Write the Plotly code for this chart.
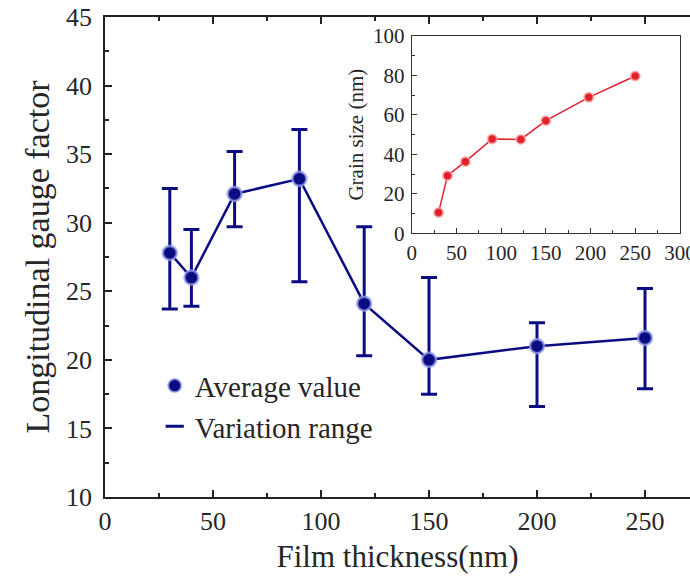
import plotly.graph_objects as go

# Main chart data
thickness = [30, 40, 60, 90, 120, 150, 200, 250]
gauge_avg = [27.8, 26.0, 32.1, 33.2, 24.1, 20.0, 21.0, 21.6]
gauge_max = [32.5, 29.5, 35.2, 36.8, 29.7, 26.0, 22.7, 25.2]
gauge_min = [23.7, 23.9, 29.7, 25.7, 20.3, 17.5, 16.6, 17.9]

# Inset data
inset_thickness = [30, 40, 60, 90, 122, 150, 198, 250]
grain_size = [10.5, 29.2, 36.3, 47.8, 47.6, 57.1, 68.9, 79.7]

err_plus = [mx - a for mx, a in zip(gauge_max, gauge_avg)]
err_minus = [a - mn for mn, a in zip(gauge_min, gauge_avg)]

NAVY = "#0c0c82"
RED = "#e0202a"
FONT = "Liberation Serif"
TXT = "#262626"

fig = go.Figure()

fig.add_trace(go.Scatter(
    x=thickness, y=gauge_avg, mode="lines+markers",
    line=dict(color=NAVY, width=2.5),
    marker=dict(size=14, color=NAVY, line=dict(color="rgba(150,160,235,0.75)", width=2.5)),
    error_y=dict(type="data", symmetric=False, array=err_plus, arrayminus=err_minus,
                 color=NAVY, thickness=3, width=8),
    showlegend=False, xaxis="x", yaxis="y",
))

# legend entries
fig.add_trace(go.Scatter(
    x=[None], y=[None], mode="markers", name="Average value",
    marker=dict(size=13, color=NAVY, line=dict(color="rgba(150,160,235,0.75)", width=2)),
))
fig.add_trace(go.Scatter(
    x=[None], y=[None], mode="markers", name="Variation range",
    marker=dict(size=13, color=NAVY, symbol="line-ew", line=dict(color=NAVY, width=3)),
))

fig.add_trace(go.Scatter(
    x=inset_thickness, y=grain_size, mode="lines+markers",
    line=dict(color=RED, width=1.5),
    marker=dict(size=9, color=RED, line=dict(color="rgba(255,160,160,0.7)", width=2)),
    showlegend=False, xaxis="x2", yaxis="y2",
))

W, H = 690, 578
L, R, T, B = 105, 0, 17, 81
pw = W - L - R
ph = H - T - B
px_per_unit = 540 / 250.0
xmax = pw / px_per_unit

fig.update_layout(
    width=W, height=H,
    margin=dict(l=L, r=R, t=T, b=B, autoexpand=False),
    paper_bgcolor="white", plot_bgcolor="white",
    font=dict(family=FONT, color=TXT),
    xaxis=dict(
        range=[0, xmax], tickvals=[0, 50, 100, 150, 200, 250],
        ticks="inside", ticklen=7, tickwidth=1.5, tickcolor="#222",
        minor=dict(tickvals=[25, 75, 125, 175, 225], ticks="inside", ticklen=4, tickwidth=1.5, tickcolor="#222"),
        showline=True, linecolor="#222", linewidth=1.5, mirror="ticks",
        showgrid=False, zeroline=False, automargin=False,
        tickfont=dict(family=FONT, size=26, color=TXT),
        title=dict(text="Film thickness(nm)", font=dict(family=FONT, size=31, color=TXT), standoff=10),
    ),
    yaxis=dict(
        range=[10, 45], dtick=5,
        ticks="inside", ticklen=7, tickwidth=1.5, tickcolor="#222",
        minor=dict(dtick=2.5, ticks="inside", ticklen=4, tickwidth=1.5, tickcolor="#222"),
        showline=True, linecolor="#222", linewidth=1.5,
        showgrid=False, zeroline=False, automargin=False,
        tickfont=dict(family=FONT, size=26, color=TXT),
        ticklabelstandoff=6,
        title=dict(text="Longitudinal gauge factor", font=dict(family=FONT, size=34, color=TXT), standoff=6),
    ),
    xaxis2=dict(
        domain=[(411.7 - L) / pw, (680 - L) / pw], anchor="y2",
        range=[0, 300], dtick=50,
        ticks="inside", ticklen=5, tickwidth=1, tickcolor="#333",
        minor=dict(dtick=25, ticks="inside", ticklen=3, tickwidth=1, tickcolor="#333"),
        showline=True, linecolor="#333", linewidth=1.2, mirror=True,
        showgrid=False, zeroline=False, automargin=False,
        ticklabeloverflow="allow",
        tickfont=dict(family=FONT, size=21, color=TXT),
    ),
    yaxis2=dict(
        domain=[(H - B - 233.3) / ph, (H - B - 36) / ph], anchor="x2",
        range=[0, 100], dtick=20,
        ticks="inside", ticklen=5, tickwidth=1, tickcolor="#333",
        minor=dict(dtick=10, ticks="inside", ticklen=3, tickwidth=1, tickcolor="#333"),
        showline=True, linecolor="#333", linewidth=1.2, mirror=True,
        showgrid=False, zeroline=False, automargin=False,
        tickfont=dict(family=FONT, size=21, color=TXT),
        ticklabelstandoff=2,
        title=dict(text="Grain size (nm)", font=dict(family=FONT, size=21, color=TXT), standoff=3),
    ),
    legend=dict(
        x=0.085, y=0.285, xanchor="left", yanchor="top",
        bgcolor="rgba(0,0,0,0)", font=dict(family=FONT, size=29, color=TXT),
        itemwidth=30, tracegroupgap=0,
    ),
)

fig.write_html("out.html")
